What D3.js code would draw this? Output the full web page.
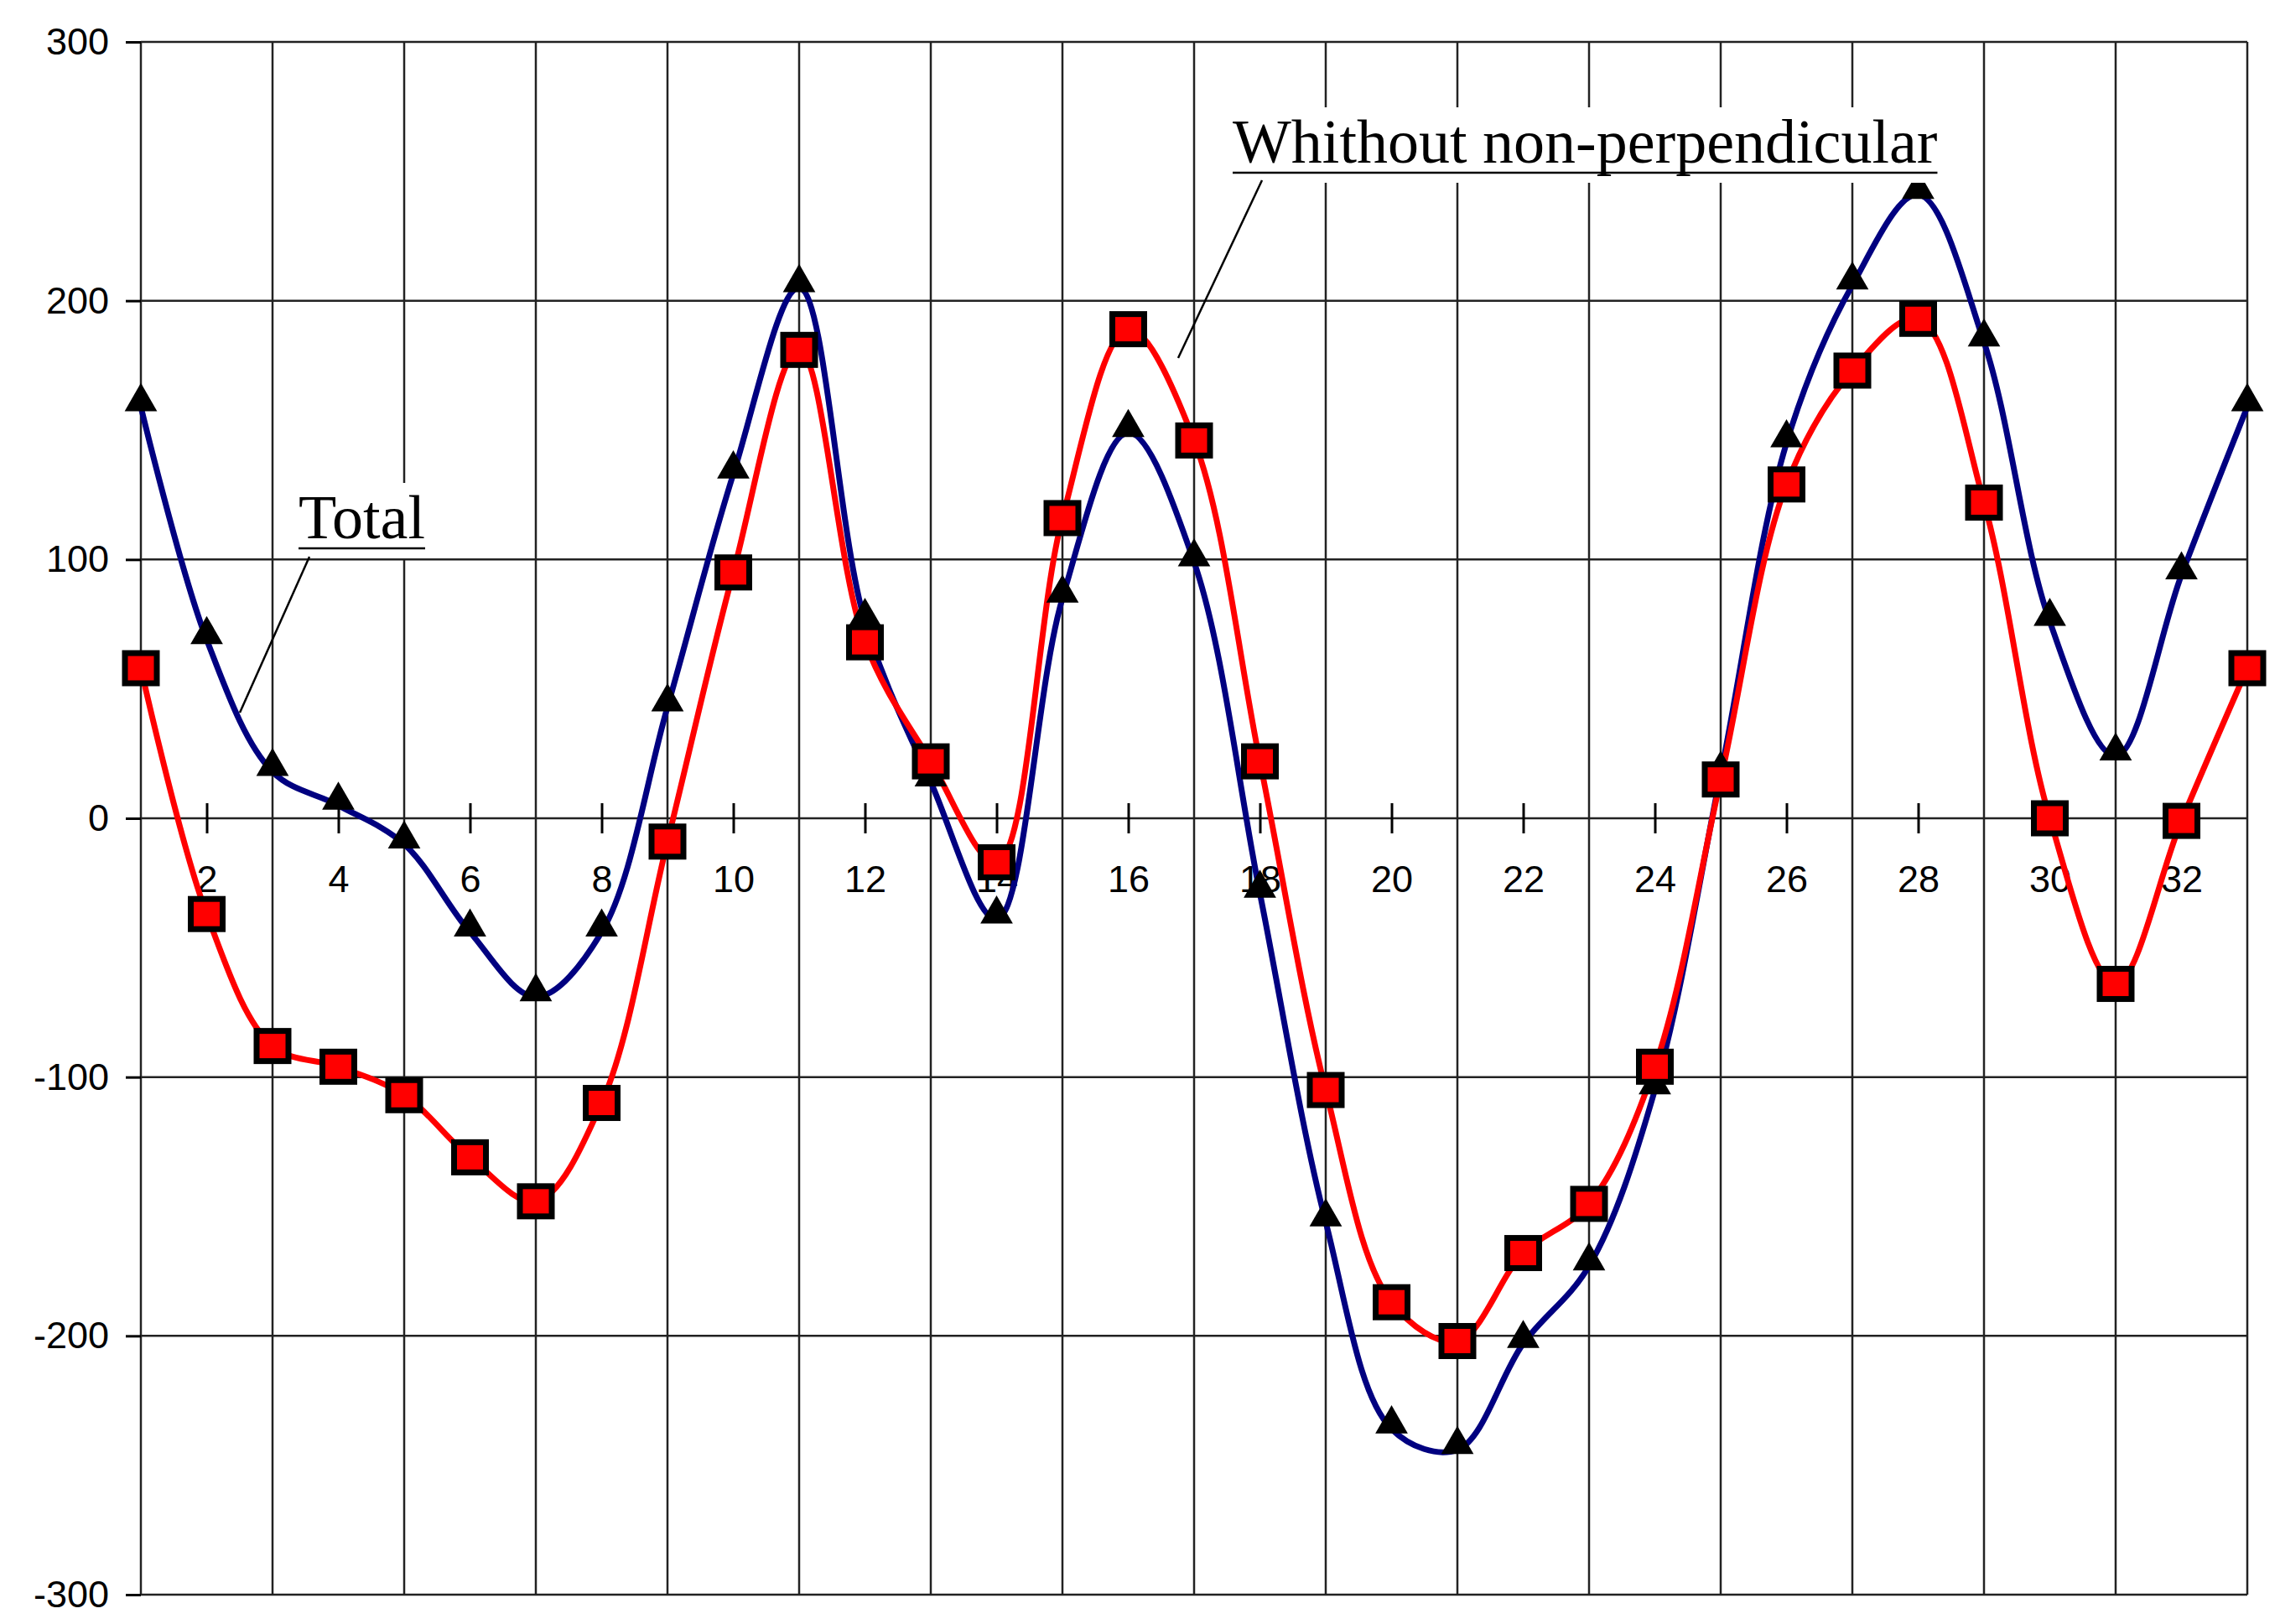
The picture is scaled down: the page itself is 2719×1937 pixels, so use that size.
<!DOCTYPE html>
<html>
<head>
<meta charset="utf-8">
<script src="https://cdn.jsdelivr.net/npm/d3@7"></script>
<style>
  body { margin: 0; background: #fff; }
  .tick text { font-family: "Liberation Sans", Arial, sans-serif; }
</style>
</head>
<body>
<div id="chart"></div>
<script>
const positions = d3.range(1, 34);
const totalValues = [159, 69, 18, 5, -10, -44, -69, -44, 43, 133, 205, 76, 14, -39, 85, 149, 99,
  -29, -156, -236, -244, -203, -173, -105, 17, 145, 206, 241, 184, 76, 24, 94, 159];
const withoutValues = [58, -37, -88, -96, -107, -131, -148, -110, -9, 95, 181, 68, 22, -17, 116, 189, 146,
  22, -105, -187, -202, -168, -149, -96, 15, 129, 173, 193, 122, 0, -64, -1, 58];
const yTicks = [-300, -200, -100, 0, 100, 200, 300];
const xLabels = d3.range(2, 33, 2);
const xGrid = d3.range(1, 34, 2);

const width = 2719, height = 1937;
const margin = { left: 168, right: 39, top: 50, bottom: 35 };

const svg = d3.select('#chart').append('svg')
  .attr('width', width).attr('height', height);

const x = d3.scaleLinear().domain([1, 33]).range([margin.left, width - margin.right]);
const y = d3.scaleLinear().domain([-300, 300]).range([height - margin.bottom, margin.top]);

// grid
const grid = svg.append('g').attr('stroke', '#222').attr('stroke-width', 2.5);
grid.selectAll('.vg').data(xGrid).join('line')
  .attr('x1', d => x(d)).attr('x2', d => x(d))
  .attr('y1', y(300)).attr('y2', y(-300));
grid.selectAll('.hg').data(yTicks).join('line')
  .attr('x1', x(1)).attr('x2', x(33))
  .attr('y1', d => y(d)).attr('y2', d => y(d));

// y axis on left
svg.append('g')
  .attr('transform', `translate(${x(1)},0)`)
  .call(d3.axisLeft(y).tickValues(yTicks).tickSize(18).tickPadding(20).tickFormat(d => String(d)))
  .call(g => g.select('.domain').remove())
  .call(g => g.selectAll('.tick line').attr('stroke', '#000').attr('stroke-width', 3))
  .call(g => g.selectAll('.tick text').attr('font-size', 45).attr('fill', '#000'));

// x axis along zero
svg.append('g')
  .attr('transform', `translate(0,${y(0)})`)
  .call(d3.axisBottom(x).tickValues(xLabels).tickSize(18).tickPadding(38))
  .call(g => g.select('.domain').remove())
  .call(g => g.selectAll('.tick line').attr('y1', -18).attr('stroke', '#000').attr('stroke-width', 3))
  .call(g => g.selectAll('.tick text').attr('font-size', 45).attr('fill', '#000'));

// lines
const line = d3.line().x((d, i) => x(positions[i])).y(d => y(d)).curve(d3.curveCatmullRom.alpha(0.5));
svg.append('path').datum(totalValues).attr('d', line)
  .attr('fill', 'none').attr('stroke', '#000080').attr('stroke-width', 7);
svg.append('path').datum(withoutValues).attr('d', line)
  .attr('fill', 'none').attr('stroke', '#ff0000').attr('stroke-width', 7);

// markers
svg.selectAll('.tri').data(totalValues).join('path')
  .attr('transform', (d, i) => `translate(${x(positions[i])},${y(d) - 6})`)
  .attr('d', d3.symbol(d3.symbolTriangle, 650))
  .attr('fill', '#000');
svg.selectAll('.sq').data(withoutValues).join('rect')
  .attr('x', (d, i) => x(positions[i]) - 19).attr('y', d => y(d) - 18)
  .attr('width', 38).attr('height', 36)
  .attr('fill', '#ff0000').attr('stroke', '#000').attr('stroke-width', 7);

// annotations
function annotate(label, tx, ty, from, to) {
  const g = svg.append('g');
  const bg = g.append('rect').attr('fill', '#fff');
  const t = g.append('text').attr('x', tx).attr('y', ty)
    .attr('font-family', '"Liberation Serif", "Times New Roman", serif')
    .attr('font-size', 74).attr('fill', '#000').text(label);
  const bb = t.node().getBBox();
  bg.attr('x', bb.x - 4).attr('y', bb.y).attr('width', bb.width + 8).attr('height', bb.height + 8);
  g.append('line').attr('x1', bb.x).attr('x2', bb.x + bb.width)
    .attr('y1', ty + 12).attr('y2', ty + 12).attr('stroke', '#000').attr('stroke-width', 2.5);
  g.append('line').attr('x1', from[0]).attr('y1', from[1]).attr('x2', to[0]).attr('y2', to[1])
    .attr('stroke', '#000').attr('stroke-width', 2.5);
}
annotate('Total', 356, 642, [369, 664], [286, 850]);
annotate('Whithout non-perpendicular', 1470, 194, [1505, 215], [1405, 427]);
</script>
</body>
</html>
